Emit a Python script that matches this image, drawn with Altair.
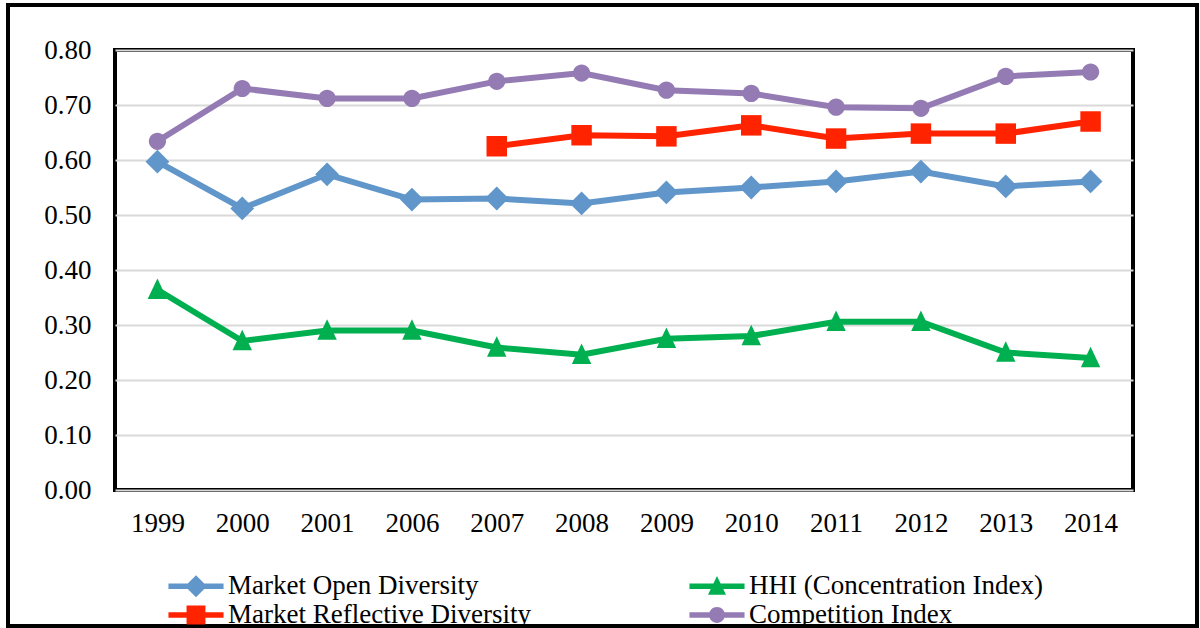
import altair as alt
import pandas as pd

years = ["1999", "2000", "2001", "2006", "2007", "2008", "2009", "2010", "2011", "2012", "2013", "2014"]
# legend order (column-major: left column first)
series_names = ["Market Open Diversity", "Market Reflective Diversity",
                "HHI (Concentration Index)", "Competition Index"]
market_open = [0.597, 0.512, 0.574, 0.528, 0.530, 0.521, 0.541, 0.550, 0.561, 0.579, 0.552, 0.561]
market_reflective = [None, None, None, None, 0.625, 0.645, 0.643, 0.663, 0.639, 0.648, 0.648, 0.670]
hhi = [0.364, 0.271, 0.290, 0.290, 0.259, 0.246, 0.275, 0.280, 0.306, 0.306, 0.250, 0.240]
competition = [0.634, 0.730, 0.712, 0.712, 0.743, 0.758, 0.727, 0.721, 0.696, 0.694, 0.752, 0.760]
y_ticks = [0.0, 0.1, 0.2, 0.3, 0.4, 0.5, 0.6, 0.7, 0.8]

colors = ["#6096C9", "#FF2300", "#00B050", "#947BB4"]

shape_diamond = "M0,-1.22L1.22,0L0,1.22L-1.22,0Z"
shape_square = "M-1.05,-1.05L1.05,-1.05L1.05,1.05L-1.05,1.05Z"
shape_tri = "M0,-1.15L1,0.95L-1,0.95Z"
shape_circle = "M-0.88,0A0.88,0.88 0 1,1 0.88,0A0.88,0.88 0 1,1 -0.88,0Z"
shapes = [shape_diamond, shape_square, shape_tri, shape_circle]
leg_line = "M-3.06,-0.3L3.06,-0.3L3.06,0.3L-3.06,0.3Z"

rows = []
for name, vals in zip(series_names, [market_open, market_reflective, hhi, competition]):
    for y, v in zip(years, vals):
        if v is not None:
            rows.append({"year": y, "value": v, "series": name})
df = pd.DataFrame(rows)

FONT = "Liberation Serif"

expr = ""
for i, name in enumerate(series_names[:-1]):
    expr += f"datum.value === '{name}' ? '{leg_line}{shapes[i]}' : "
expr += f"'{leg_line}{shapes[-1]}'"

color_scale = alt.Scale(domain=series_names, range=colors)

legend = alt.Legend(title=None, orient="none", legendX=67.5, legendY=522.5,
                    columns=2, columnPadding=157, rowPadding=1, padding=0,
                    labelFont=FONT, labelFontSize=27, labelColor="black",
                    labelOffset=18.5, labelLimit=600,
                    symbolType=alt.ExprRef(expr=expr),
                    symbolSize=324, symbolStrokeWidth=0, symbolOpacity=1)

x_enc = alt.X("year:N", sort=years, scale=alt.Scale(padding=0.5),
              axis=alt.Axis(title=None, labelAngle=0, ticks=False, domain=False, grid=False,
                            labelFont=FONT, labelFontSize=27, labelColor="black",
                            labelPadding=20))
y_enc = alt.Y("value:Q", scale=alt.Scale(domain=[0, 0.8], nice=False, zero=True),
              axis=alt.Axis(title=None, values=y_ticks, format=".2f", ticks=False, domain=False,
                            grid=True, gridColor="#d9d9d9", gridWidth=2,
                            labelFont=FONT, labelFontSize=27, labelColor="black",
                            labelPadding=24))

base = alt.Chart(df)

lines = base.mark_line(strokeWidth=6).encode(
    x=x_enc, y=y_enc,
    color=alt.Color("series:N", scale=color_scale, legend=legend),
    detail="series:N",
)

legend_pts = base.mark_point(filled=True, opacity=0, size=1).encode(
    x=x_enc, y=y_enc,
    color=alt.Color("series:N", scale=color_scale, legend=legend),
)

marker_layers = []
for name, col, shp in zip(series_names, colors, shapes):
    marker_layers.append(
        base.transform_filter(alt.datum.series == name)
        .mark_point(filled=True, opacity=1, size=380, shape=shp, color=col)
        .encode(x=x_enc, y=y_enc)
    )

frame = alt.Chart(alt.Data(values=[{}])).mark_rect(
    fill="transparent", stroke="black", strokeWidth=4
).encode(
    x=alt.value(-107), x2=alt.value(1082), y=alt.value(-45), y2=alt.value(576)
)

chart = alt.layer(frame, lines, legend_pts, *marker_layers).properties(
    width=1018, height=440,
    padding={"left": 115, "top": 50, "right": 67, "bottom": 138},
    autosize=alt.AutoSizeParams(type="none"),
    background="white",
).configure_view(
    stroke="black", strokeWidth=4
)

chart.save("out.html", embed_options={"renderer": "svg", "actions": False})
